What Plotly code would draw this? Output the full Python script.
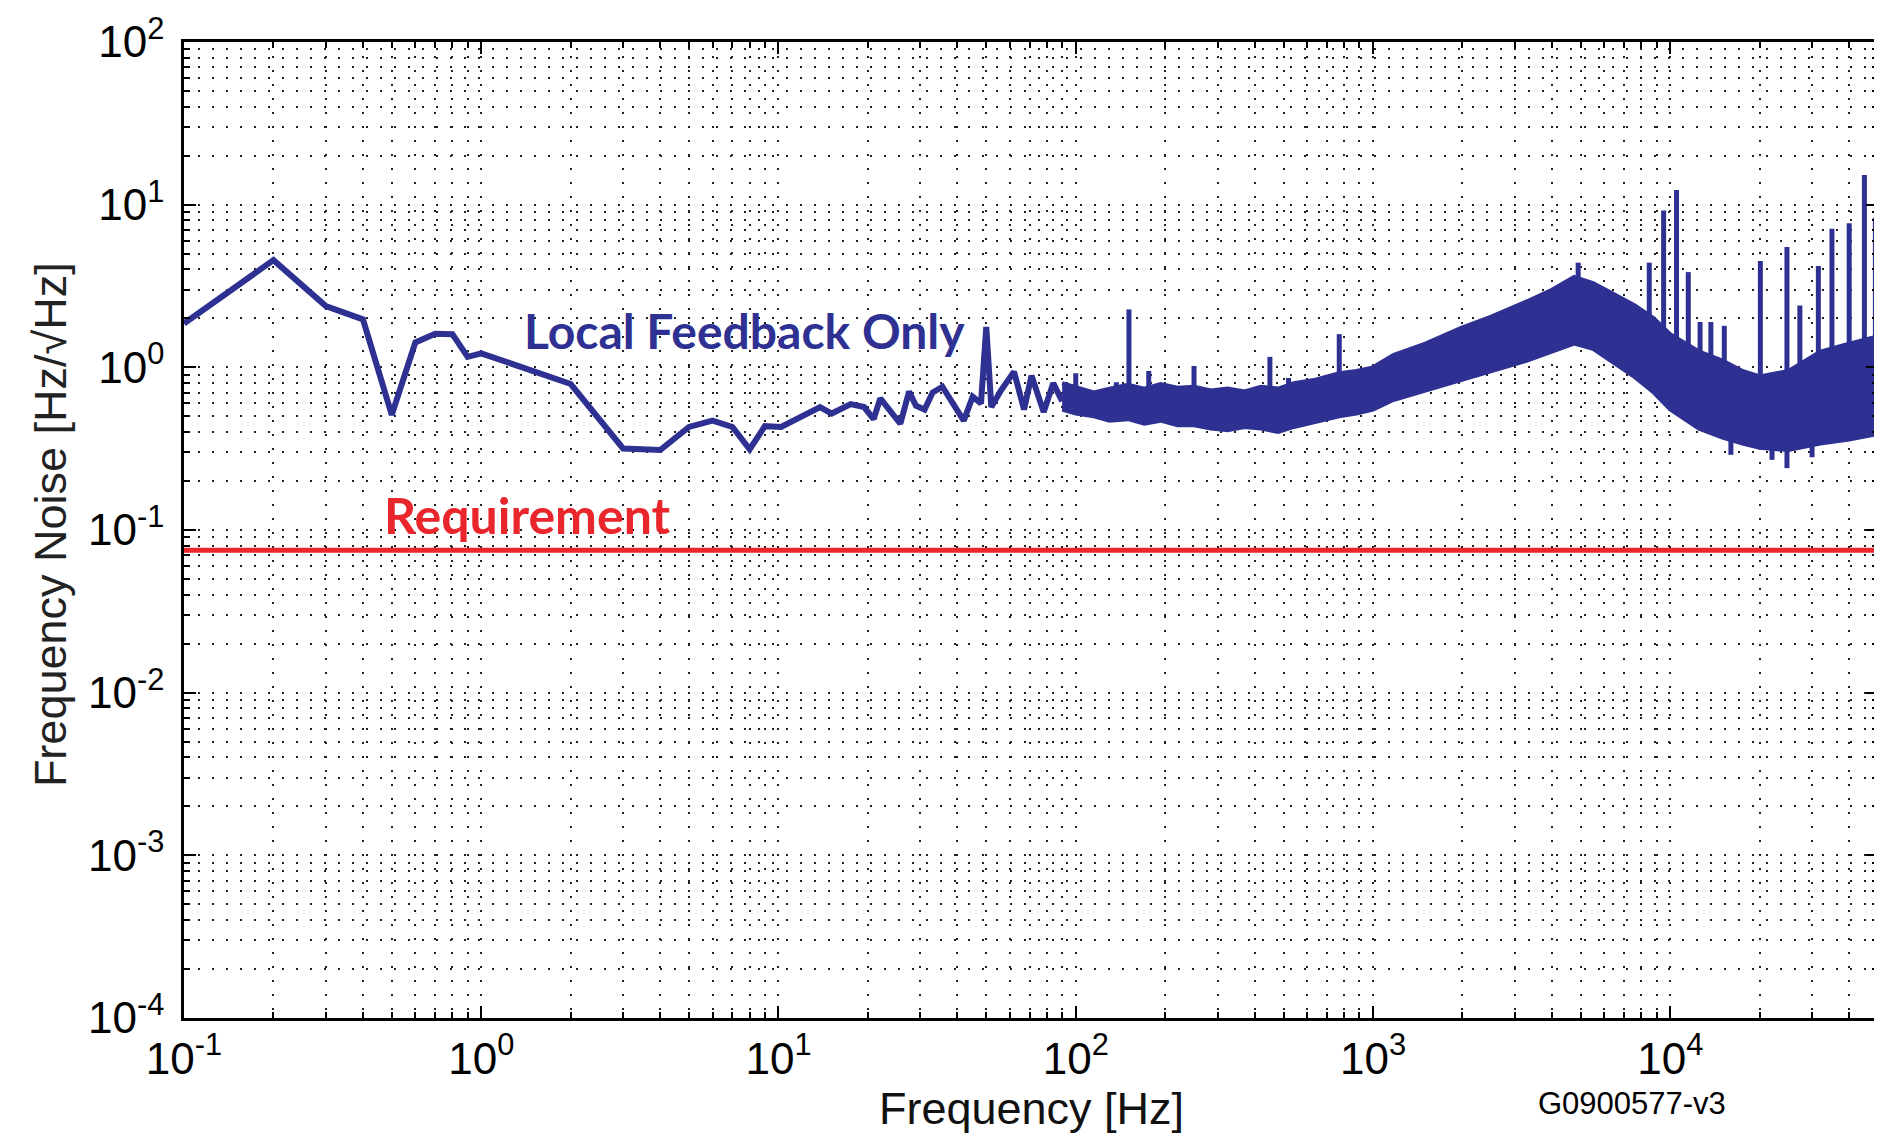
import numpy as np
import plotly.graph_objects as go

# ---- data ----
# low-frequency part of "Local Feedback Only" (Hz, Hz/sqrt(Hz))
low_f = [0.1, 0.2, 0.3, 0.4, 0.5, 0.6, 0.7, 0.8, 0.9, 1.0, 2.0, 3.0, 4.0, 5.0, 6.0, 7.0, 8.0, 9.0, 10.2,
         13.8, 15.1, 17.5, 19.4, 20.9, 22.0, 23.5, 25.7, 27.5, 29.0, 31.0, 33.0, 35.6, 38.0, 42.0, 45.0,
         48.0, 50.0, 52.0, 56.0, 62.0, 67.0, 71.0, 78.0, 84.0, 90.0]
low_v = [1.86, 4.56, 2.38, 1.97, 0.51, 1.42, 1.61, 1.60, 1.16, 1.22, 0.79, 0.317, 0.31, 0.43, 0.47, 0.43, 0.313, 0.435, 0.43,
         0.57, 0.52, 0.594, 0.57, 0.48, 0.645, 0.56, 0.45, 0.71, 0.58, 0.55, 0.70, 0.76, 0.62, 0.47, 0.66,
         0.60, 1.77, 0.57, 0.72, 0.94, 0.55, 0.89, 0.53, 0.80, 0.62]

# noisy band (upper / lower envelopes) above ~90 Hz
band_f = [90, 100, 115, 130, 150, 170, 193, 220, 250, 285, 324, 370, 420, 480, 542, 640, 770, 880, 1000,
          1170, 1500, 1980, 2500, 3300, 4000, 4750, 5500, 6500, 7600, 8800, 10000, 12500, 15000, 17500,
          20000, 25000, 32000, 40000, 50000]
band_hi = [0.80, 0.76, 0.70, 0.74, 0.78, 0.74, 0.79, 0.75, 0.76, 0.72, 0.74, 0.71, 0.76, 0.74, 0.80, 0.84, 0.92, 0.95, 1.00,
           1.19, 1.40, 1.75, 2.05, 2.55, 3.0, 3.6, 3.3, 2.8, 2.4, 2.0, 1.6, 1.25, 1.10, 0.95,
           0.88, 0.95, 1.25, 1.40, 1.55]
band_lo = [0.55, 0.52, 0.50, 0.47, 0.48, 0.45, 0.47, 0.44, 0.44, 0.42, 0.41, 0.43, 0.42, 0.40, 0.43, 0.46, 0.50, 0.52, 0.55,
           0.63, 0.72, 0.83, 0.95, 1.10, 1.25, 1.40, 1.30, 1.05, 0.87, 0.70, 0.55, 0.42, 0.37, 0.34,
           0.32, 0.31, 0.34, 0.36, 0.39]

# narrow spectral lines (frequency, peak value, base value)
spike_f = [100, 137, 151, 176, 250, 450, 520, 770, 4900, 8500, 9500, 10500, 11500, 12600, 13700, 15200,
           20100, 24700, 27300, 31500, 35000, 40000, 45000, 49000]
spike_top = [0.92, 0.81, 2.27, 0.95, 1.02, 1.16, 0.86, 1.60, 4.4, 4.4, 9.2, 12.3, 3.85, 1.9, 1.9, 1.8,
             4.5, 5.5, 2.4, 4.2, 7.1, 7.7, 15.2, 8.3]
spike_base = [0.6, 0.6, 0.6, 0.6, 0.6, 0.6, 0.6, 0.7, 2.0, 1.5, 1.3, 1.2, 1.0, 0.8, 0.8, 0.7,
              0.6, 0.6, 0.6, 0.7, 0.7, 0.7, 0.8, 0.8]
# downward dips below the band
dip_f = [16000, 22000, 24700, 30000]
dip_v = [0.29, 0.27, 0.24, 0.28]
dip_base = [0.5, 0.5, 0.5, 0.5]

requirement = 0.075
x_range = [0.1, 5e4]

x_major = [0.1, 1, 10, 100, 1e3, 1e4]
x_labels = ["10<sup>-1</sup>", "10<sup>0</sup>", "10<sup>1</sup>", "10<sup>2</sup>", "10<sup>3</sup>", "10<sup>4</sup>"]
y_major = [1e-4, 1e-3, 1e-2, 1e-1, 1, 10, 100]
y_labels = ["10<sup>-4</sup>", "10<sup>-3</sup>", "10<sup>-2</sup>", "10<sup>-1</sup>", "10<sup>0</sup>",
            "10<sup>1</sup>", "10<sup>2</sup>"]

BLUE = "#2e3192"
RED = "#e8262b"

x_minor = [m * 10.0 ** e for e in range(-1, 5) for m in range(2, 10) if m * 10.0 ** e < 5e4]
y_minor = [m * 10.0 ** e for e in range(-4, 2) for m in range(2, 10)]

fig = go.Figure()

# band
fig.add_trace(go.Scatter(x=band_f, y=band_hi, mode="lines", line=dict(color=BLUE, width=4),
                         hoverinfo="skip", showlegend=False))
fig.add_trace(go.Scatter(x=band_f, y=band_lo, mode="lines", line=dict(color=BLUE, width=4),
                         fill="tonexty", fillcolor=BLUE, hoverinfo="skip", showlegend=False))

# low-frequency line
fig.add_trace(go.Scatter(x=low_f, y=low_v, mode="lines", line=dict(color=BLUE, width=6),
                         showlegend=False))

# spikes
sx, sy = [], []
for f, t, b in zip(spike_f, spike_top, spike_base):
    sx += [f, f, None]
    sy += [b, t, None]
for f, t, b in zip(dip_f, dip_v, dip_base):
    sx += [f, f, None]
    sy += [b, t, None]
fig.add_trace(go.Scatter(x=sx, y=sy, mode="lines", line=dict(color=BLUE, width=5),
                         showlegend=False, connectgaps=False))

# requirement
fig.add_trace(go.Scatter(x=x_range, y=[requirement, requirement], mode="lines",
                         line=dict(color=RED, width=5), showlegend=False))

font_main = "Liberation Sans, Arial, Helvetica, sans-serif"
grid_common = dict(showgrid=True, gridcolor="#222222", gridwidth=1.8, griddash="2px,12px")

fig.update_xaxes(
    type="log", range=[np.log10(x_range[0]), np.log10(x_range[1])],
    tickmode="array", tickvals=x_major, ticktext=x_labels,
    ticks="inside", ticklen=12, tickwidth=2, tickcolor="black",
    showline=True, linewidth=2.5, linecolor="black", mirror="ticks",
    tickfont=dict(family=font_main, size=44, color="black"),
    ticklabelstandoff=0,
    minor=dict(tickmode="array", tickvals=x_minor, ticks="inside", ticklen=6, tickwidth=1.5,
               tickcolor="black", **grid_common),
    zeroline=False, **grid_common,
)
fig.update_yaxes(
    type="log", range=[-4, 2],
    tickmode="array", tickvals=y_major, ticktext=y_labels,
    ticks="inside", ticklen=12, tickwidth=2, tickcolor="black",
    showline=True, linewidth=2.5, linecolor="black", mirror="ticks",
    tickfont=dict(family=font_main, size=44, color="black"),
    ticklabelstandoff=8,
    minor=dict(tickmode="array", tickvals=y_minor, ticks="inside", ticklen=6, tickwidth=1.5,
               tickcolor="black", **grid_common),
    zeroline=False, **grid_common,
)

# axis titles
fig.add_annotation(x=0.5, y=-0.0932, xref="paper", yref="paper", text="Frequency [Hz]",
                   showarrow=False, font=dict(family=font_main, size=45, color="#111111"),
                   xanchor="center", yanchor="middle")
fig.add_annotation(x=-0.0791, y=0.505, xref="paper", yref="paper", text="Frequency Noise [Hz/\u221AHz]",
                   showarrow=False, textangle=-90, font=dict(family=font_main, size=45, color="#222222"),
                   xanchor="center", yanchor="middle")

fig.add_annotation(x=np.log10(7.7), y=0.229, xref="x", yref="y", text="<b>Local Feedback Only</b>",
                   showarrow=False, font=dict(family="Lato, Open Sans, sans-serif", size=48, color=BLUE),
                   xanchor="center", yanchor="middle")
fig.add_annotation(x=0.155, y=-0.905, xref="x", yref="y", text="<b>Requirement</b>",
                   showarrow=False, font=dict(family="Lato, Open Sans, sans-serif", size=50, color=RED),
                   xanchor="center", yanchor="middle")
fig.add_annotation(x=0.855, y=-0.088, xref="paper", yref="paper", text="G0900577-v3",
                   showarrow=False, font=dict(family=font_main, size=31, color="black"),
                   xanchor="center", yanchor="middle")

# page body has an 8px margin: shrink figure so plot area lands where the reference has it
fig.update_layout(
    width=1874, height=1128,
    margin=dict(l=176, r=4, t=34, b=118, autoexpand=False),
    paper_bgcolor="white", plot_bgcolor="white",
    showlegend=False,
)

fig.write_html("out.html")
